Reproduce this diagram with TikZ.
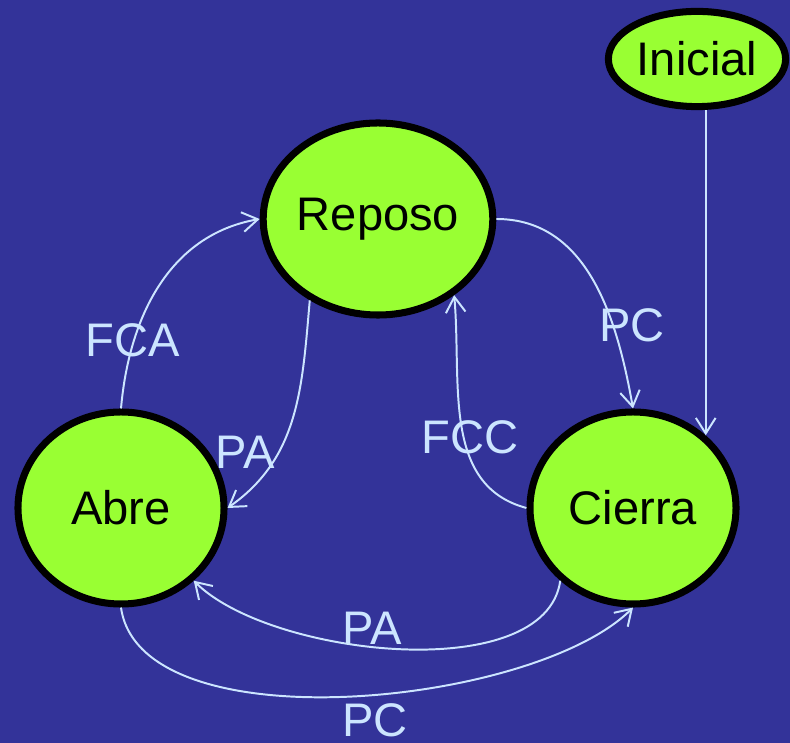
\documentclass[tikz,border=0pt]{standalone}
\usepackage{fontspec}
\setmainfont{Liberation Sans}
\usetikzlibrary{arrows.meta,shapes.geometric}
\definecolor{fondo}{RGB}{51,51,153}
\definecolor{verde}{RGB}{153,255,51}
\definecolor{celeste}{RGB}{204,229,255}

\begin{document}
\begin{tikzpicture}[x=0.025cm,y=0.025cm,
	estado/.style={ellipse,draw=black,line width=5pt,fill=verde,minimum width=5.15cm,minimum height=4.8cm,inner sep=0pt,font=\fontsize{33.5}{40}\selectfont},
	trans/.style={draw=celeste,line width=1.4pt,-{Straight Barb[length=11pt,width=14pt]}},
	etiq/.style={text=celeste,font=\fontsize{33.5}{40}\selectfont,inner sep=0pt}]
		% Fondo
		\useasboundingbox (0,0) rectangle (790,743);
		\fill[fondo] (0,0) rectangle (790,743);
		
		% Estados
		\node[estado] (rep) at (378,524) {Reposo};
		\node[estado] (abre) at (121,235) {Abre};
		\node[estado] (cie) at (633,235) {Cierra};
		\node[estado,minimum width=4.43cm,minimum height=2.38cm] (ini) at (697,684) {Inicial};
		
		% Transiciones
		\draw[trans] (ini.south -| cie.45) -- (cie.45);
		\draw[trans] (rep.east) to[out=0,in=100] (cie.north);
		\draw[trans] (cie.west) to[out=165,in=-85] (rep.-45);
		\draw[trans] (rep.-130) to[out=-95,in=35] (abre.east);
		\draw[trans] (abre.north) to[out=85,in=190] (rep.west);
		\draw[trans] (cie.-135) to[out=-98,in=-45,looseness=0.75] (abre.-45);
		\draw[trans] (abre.south) to[out=-82,in=-135,looseness=0.7] (cie.south);
		
		% Etiquetas
		\node[etiq] (lpc) at (632,418) {PC};
		\node[etiq] (lfcc) at (470,306) {FCC};
		\node[etiq] (lpa) at (245,291) {PA};
		\node[etiq] (lfca) at (133,403) {FCA};
		\node[etiq] (lpa2) at (372,115) {PA};
		\node[etiq] (lpc2) at (375,23) {PC};
	\end{tikzpicture}
\end{document}
